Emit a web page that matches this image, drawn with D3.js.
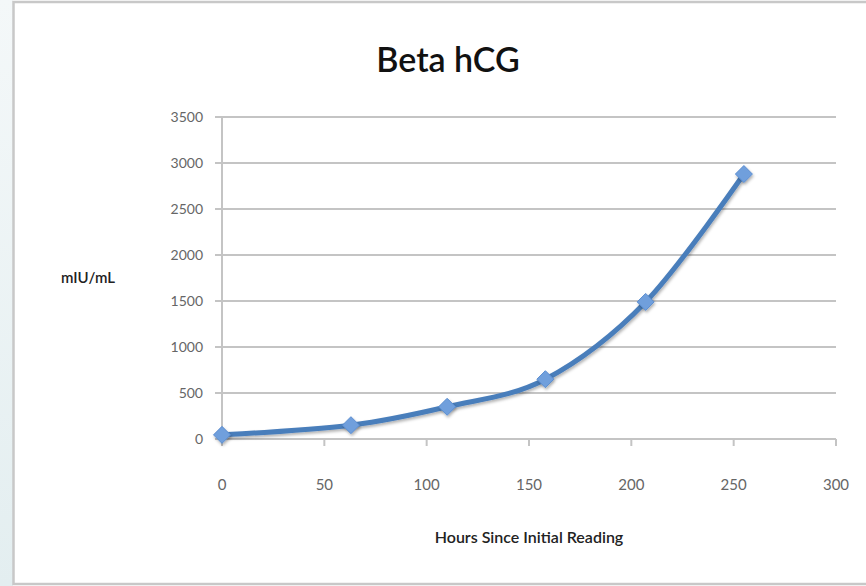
<!DOCTYPE html>
<html>
<head>
<meta charset="utf-8">
<script src="https://cdn.jsdelivr.net/npm/d3@7"></script>
<style>
  html, body { margin: 0; padding: 0; background: #fff; }
  svg { display: block; }
  text { font-family: Lato, "Open Sans", sans-serif; }
</style>
</head>
<body>
<div id="chart"></div>
<script>
// values
const hours  = [0, 63, 110, 158, 207, 255];
const levels = [45, 150, 350, 650, 1490, 2880];
const xTicks = [0, 50, 100, 150, 200, 250, 300];
const yTicks = [0, 500, 1000, 1500, 2000, 2500, 3000, 3500];

const W = 866, H = 586;
const x = d3.scaleLinear().domain([0, 300]).range([222, 836]);
const y = d3.scaleLinear().domain([0, 3500]).range([439, 117]);

const svg = d3.select("#chart").append("svg").attr("width", W).attr("height", H);
const defs = svg.append("defs");

// left pale strip + frame
const grad = defs.append("linearGradient").attr("id","strip").attr("x1",0).attr("y1",0).attr("x2",0).attr("y2",1);
grad.append("stop").attr("offset","0%").attr("stop-color","#f4f8f9");
grad.append("stop").attr("offset","100%").attr("stop-color","#e3eef0");
svg.append("rect").attr("x",0).attr("y",0).attr("width",13).attr("height",H).attr("fill","url(#strip)");
svg.append("rect").attr("x",13.5).attr("y",2).attr("width",W).attr("height",582)
  .attr("fill","#fff").attr("stroke","#c8c8c8").attr("stroke-width",2.5);

const shadow = defs.append("filter").attr("id","shadow").attr("x","-50%").attr("y","-50%").attr("width","200%").attr("height","200%");
shadow.append("feDropShadow").attr("dx",1).attr("dy",2).attr("stdDeviation",1.5).attr("flood-color","#000").attr("flood-opacity",0.3);

// title
svg.append("text").attr("x",448).attr("y",72).attr("text-anchor","middle")
  .attr("font-size",34).attr("font-weight",600).attr("fill","#111").text("Beta hCG");

// gridlines
svg.append("g").selectAll("line").data(yTicks).join("line")
  .attr("x1",215).attr("x2",836).attr("y1",d=>y(d)).attr("y2",d=>y(d))
  .attr("stroke","#c4c4c4").attr("stroke-width",2);

// y axis line
svg.append("line").attr("x1",222).attr("x2",222).attr("y1",y(3500)).attr("y2",y(0))
  .attr("stroke","#c4c4c4").attr("stroke-width",2);

// x ticks
svg.append("g").selectAll("line").data(xTicks).join("line")
  .attr("x1",d=>x(d)).attr("x2",d=>x(d)).attr("y1",y(0)).attr("y2",y(0)+7)
  .attr("stroke","#c4c4c4").attr("stroke-width",2);

// tick labels
svg.append("g").selectAll("text").data(yTicks).join("text")
  .attr("x",203).attr("y",d=>y(d)+5).attr("text-anchor","end")
  .attr("font-size",14).attr("fill","#666").text(d=>d);
svg.append("g").selectAll("text").data(xTicks).join("text")
  .attr("x",d=>x(d)).attr("y",490).attr("text-anchor","middle")
  .attr("font-size",15).attr("fill","#666").text(d=>d);

// axis titles
svg.append("text").attr("x",88).attr("y",283).attr("text-anchor","middle")
  .attr("font-size",15).attr("font-weight",600).attr("fill","#222").text("mIU/mL");
svg.append("text").attr("x",529).attr("y",543).attr("text-anchor","middle")
  .attr("font-size",16).attr("font-weight",600).attr("fill","#222").text("Hours Since Initial Reading");

// series
const pts = hours.map((h,i)=>[h, levels[i]]);
const line = d3.line().x(d=>x(d[0])).y(d=>y(d[1])).curve(d3.curveCardinal.tension(0));
svg.append("path").datum(pts).attr("d",line).attr("fill","none")
  .attr("stroke","#4a7ebb").attr("stroke-width",5).attr("stroke-linecap","round")
  .attr("filter","url(#shadow)");

// square-ish diamond markers like Excel's
const m = 8.5;
svg.append("g").selectAll("path").data(pts).join("path")
  .attr("d", `M0,${-m}L${m},0L0,${m}L${-m},0Z`)
  .attr("transform", d=>`translate(${x(d[0])},${y(d[1])})`)
  .attr("fill","#709fdc").attr("stroke","#5b8dd0").attr("stroke-width",1)
  .attr("filter","url(#shadow)");
</script>
</body>
</html>
